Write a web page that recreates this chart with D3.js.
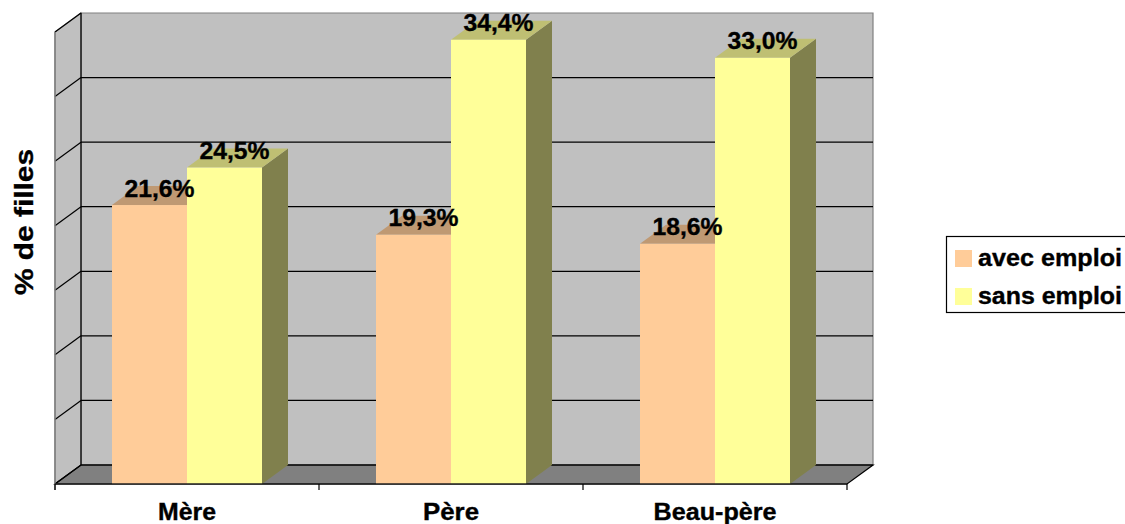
<!DOCTYPE html>
<html>
<head>
<meta charset="utf-8">
<script src="https://cdn.jsdelivr.net/npm/d3@7/dist/d3.min.js"></script>
<style>
  html, body { margin: 0; padding: 0; background: #fff; }
  svg { display: block; font-family: "Liberation Sans", Arial, sans-serif; font-weight: bold; }
  text { stroke: #000; stroke-width: 0.35px; }
</style>
</head>
<body>
<svg id="chart" width="1125" height="524"></svg>
<script>
// Share of girls by parent's employment status
const categories = ["Mère", "Père", "Beau-père"];
const seriesNames = ["avec emploi", "sans emploi"];
const avecEmploi = [21.6, 19.3, 18.6];
const sansEmploi = [24.5, 34.4, 33.0];
const yTicks = [0, 5, 10, 15, 20, 25, 30, 35];

const seriesValues = [avecEmploi, sansEmploi];
const frontColors = ["#ffcc99", "#ffff99"];

// shade a colour by a factor (used for top and side faces of the 3D bars)
function shade(c, k) {
  const r = d3.rgb(c);
  return d3.rgb(r.r * k, r.g * k, r.b * k).formatHex();
}

const svg = d3.select("#chart");

// plot geometry (front plane) and 3D depth offset
const left = 55, right = 847, floorY = 484, topY = 32;
const DX = 26, DY = 19;

const x = d3.scaleBand().domain(categories).range([left, right]).padding(0);
const groupW = 150;
const xInner = d3.scaleBand().domain(seriesNames).range([0, groupW]).padding(0);
const y = d3.scaleLinear().domain([0, 35]).range([floorY, topY]);

const yMax = y(35);

// back wall
svg.append("polygon")
  .attr("points", [[left + DX, yMax - DY], [right + DX, yMax - DY], [right + DX, floorY - DY], [left + DX, floorY - DY]].join(" "))
  .attr("fill", "#c0c0c0").attr("stroke", "#808080").attr("stroke-width", 1.2);

// left side wall
svg.append("polygon")
  .attr("points", [[left, yMax], [left + DX, yMax - DY], [left + DX, floorY - DY], [left, floorY]].join(" "))
  .attr("fill", "#c0c0c0").attr("stroke", "#808080").attr("stroke-width", 1.2);

// floor
svg.append("polygon")
  .attr("points", [[left, floorY], [right, floorY], [right + DX, floorY - DY], [left + DX, floorY - DY]].join(" "))
  .attr("fill", "#808080").attr("stroke", "#000").attr("stroke-width", 1.2);

// gridlines on back and left walls
const grid = svg.append("g").attr("stroke", "#000").attr("stroke-width", 1.2).attr("fill", "none");
yTicks.forEach(v => {
  const yy = y(v);
  if (v < 35) {
    grid.append("line").attr("x1", left + DX).attr("x2", right + DX).attr("y1", yy - DY).attr("y2", yy - DY);
  }
  grid.append("line").attr("x1", left).attr("y1", yy).attr("x2", left + DX).attr("y2", yy - DY);
});
// wall corner edge
grid.append("line").attr("x1", left + DX).attr("x2", left + DX).attr("y1", yMax - DY).attr("y2", floorY - DY);
// left wall outer edge
svg.append("line").attr("x1", left).attr("x2", left).attr("y1", yMax).attr("y2", floorY + 6)
  .attr("stroke", "#808080").attr("stroke-width", 1.5);

// 3D bars, drawn left to right so each bar covers the side of its left neighbour
const bars = svg.append("g");
categories.forEach((cat, i) => {
  seriesNames.forEach((s, j) => {
    const v = seriesValues[j][i];
    const x0 = x(cat) + (x.bandwidth() - groupW) / 2 + xInner(s);
    const x1 = x0 + xInner.bandwidth();
    const yt = y(v), yb = y(0);
    const col = frontColors[j];
    // side face
    bars.append("polygon")
      .attr("points", [[x1, yt], [x1 + DX, yt - DY], [x1 + DX, yb - DY], [x1, yb]].join(" "))
      .attr("fill", shade(col, 0.5));
    // top face
    bars.append("polygon")
      .attr("points", [[x0, yt], [x0 + DX, yt - DY], [x1 + DX, yt - DY], [x1, yt]].join(" "))
      .attr("fill", shade(col, 0.75));
    // front face
    bars.append("rect")
      .attr("x", x0).attr("y", yt).attr("width", x1 - x0).attr("height", yb - yt)
      .attr("fill", col);
  });
});

// front floor edge
svg.append("line").attr("x1", left).attr("x2", right).attr("y1", floorY).attr("y2", floorY)
  .attr("stroke", "#222").attr("stroke-width", 1.5);

// category ticks at band boundaries
const tickXs = categories.map(c => x(c)).concat([x(categories[categories.length - 1]) + x.bandwidth()]);
svg.append("g").selectAll("line").data(tickXs).join("line")
  .attr("x1", d => d).attr("x2", d => d).attr("y1", floorY).attr("y2", floorY + 6)
  .attr("stroke", "#000").attr("stroke-width", 1.2);

// value labels
const labels = svg.append("g").attr("font-size", 24).attr("fill", "#000").attr("text-anchor", "middle");
categories.forEach((cat, i) => {
  seriesNames.forEach((s, j) => {
    const v = seriesValues[j][i];
    const x0 = x(cat) + (x.bandwidth() - groupW) / 2 + xInner(s);
    const cx = x0 + xInner.bandwidth() / 2 + 10;
    labels.append("text")
      .attr("x", cx).attr("y", y(v) - DY / 2 + 1)
      .attr("textLength", 70).attr("lengthAdjust", "spacingAndGlyphs")
      .text(v.toFixed(1).replace(".", ",") + "%");
  });
});

// category labels
const catLen = { "Mère": 58, "Père": 56, "Beau-père": 123 };
svg.append("g").attr("font-size", 23).attr("text-anchor", "middle")
  .selectAll("text").data(categories).join("text")
  .attr("x", d => x(d) + x.bandwidth() / 2 + 0)
  .attr("y", 520)
  .attr("textLength", d => catLen[d]).attr("lengthAdjust", "spacingAndGlyphs")
  .text(d => d);

// y axis title
svg.append("text")
  .attr("transform", "translate(33,222) rotate(-90)")
  .attr("text-anchor", "middle").attr("font-size", 25)
  .attr("textLength", 146).attr("lengthAdjust", "spacingAndGlyphs")
  .text("% de filles");

// legend
const legend = svg.append("g");
legend.append("rect").attr("x", 946.5).attr("y", 236.5).attr("width", 200).attr("height", 76)
  .attr("fill", "#fff").attr("stroke", "#000").attr("stroke-width", 1.2);
seriesNames.forEach((s, j) => {
  legend.append("rect").attr("x", 955).attr("y", 250 + j * 38).attr("width", 17).attr("height", 17)
    .attr("fill", frontColors[j]).attr("stroke", "none");
  legend.append("text").attr("x", 978).attr("y", 266 + j * 38).attr("font-size", 23)
    .attr("textLength", 144).attr("lengthAdjust", "spacingAndGlyphs")
    .text(s);
});
</script>
</body>
</html>
